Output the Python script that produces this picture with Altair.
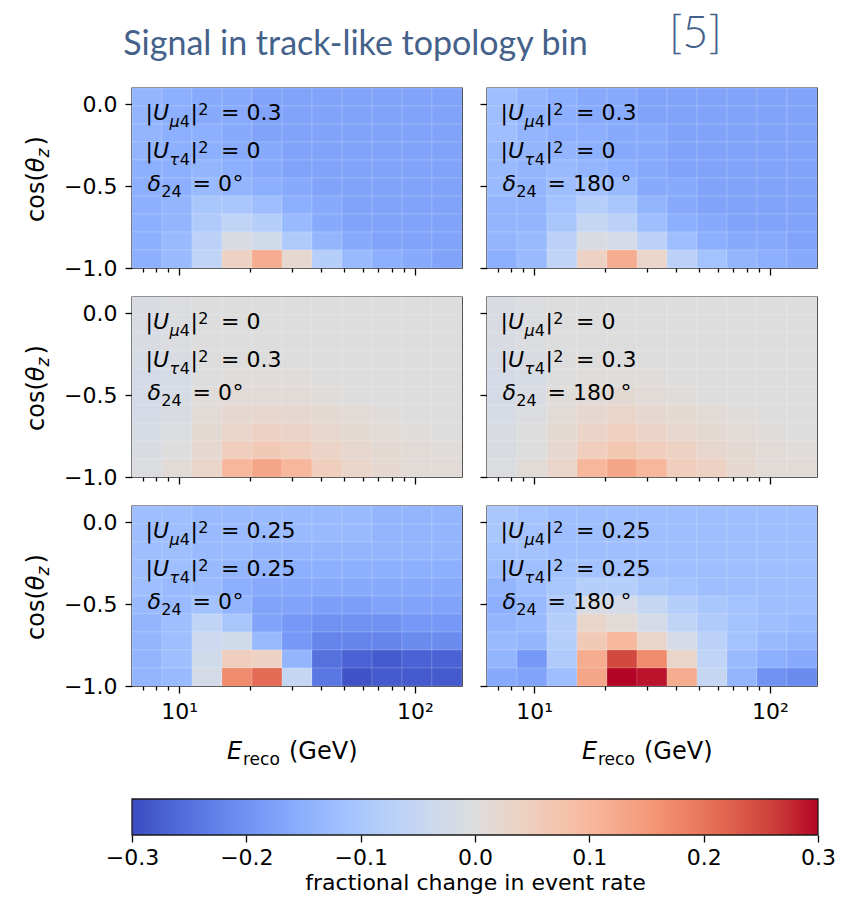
import altair as alt
import pandas as pd

# ---------------- data ----------------
E_EDGES = [6.31, 8.46, 11.34, 15.20, 20.38, 27.32, 36.62, 49.09, 65.79, 88.19, 118.2, 158.5]
COS_EDGES = [-1.0, -0.89, -0.78, -0.67, -0.56, -0.45, -0.34, -0.23, -0.12, -0.01, 0.10]

X_TICKS = [7, 8, 9, 10, 20, 30, 40, 50, 60, 70, 80, 90, 100]
Y_TICKS = [-1.0, -0.5, 0.0]
CB_TICKS = [-0.3, -0.2, -0.1, 0.0, 0.1, 0.2, 0.3]

# matplotlib "coolwarm" stops
CMAP_DOMAIN = [-0.3, -0.2625, -0.225, -0.1875, -0.15, -0.1125, -0.075, -0.0375, 0.0,
               0.0375, 0.075, 0.1125, 0.15, 0.1875, 0.225, 0.2625, 0.3]
CMAP_COLORS = ["#3b4cc0", "#4e68d8", "#6282ea", "#779af7", "#8db0fe", "#a3c2fe", "#b8d0f9",
               "#ccd9ee", "#dddddd", "#ecd3c5", "#f5c4ad", "#f7b194", "#f49a7b", "#ec7f63",
               "#de604d", "#cb3e38", "#b40426"]

# rows listed from top (cos = 0.1) to bottom (cos = -1.0), 11 energy bins each
P1 = [
    [-0.14, -0.15, -0.16, -0.16, -0.17, -0.17, -0.17, -0.17, -0.17, -0.17, -0.17],
    [-0.14, -0.15, -0.16, -0.16, -0.17, -0.17, -0.17, -0.17, -0.17, -0.17, -0.17],
    [-0.14, -0.15, -0.15, -0.16, -0.17, -0.17, -0.17, -0.17, -0.17, -0.17, -0.17],
    [-0.14, -0.15, -0.15, -0.16, -0.16, -0.17, -0.17, -0.17, -0.17, -0.17, -0.17],
    [-0.15, -0.15, -0.14, -0.15, -0.16, -0.17, -0.17, -0.17, -0.17, -0.17, -0.17],
    [-0.15, -0.15, -0.13, -0.14, -0.15, -0.16, -0.17, -0.17, -0.17, -0.17, -0.17],
    [-0.15, -0.14, -0.10, -0.10, -0.12, -0.15, -0.16, -0.17, -0.17, -0.17, -0.17],
    [-0.15, -0.14, -0.09, -0.06, -0.08, -0.13, -0.16, -0.17, -0.17, -0.17, -0.17],
    [-0.15, -0.13, -0.07, -0.01, -0.03, -0.09, -0.14, -0.16, -0.17, -0.17, -0.17],
    [-0.15, -0.13, -0.06, 0.04, 0.12, 0.02, -0.08, -0.13, -0.15, -0.16, -0.17],
]
P2 = [
    [-0.12, -0.14, -0.15, -0.16, -0.16, -0.17, -0.17, -0.17, -0.17, -0.17, -0.17],
    [-0.12, -0.14, -0.15, -0.16, -0.16, -0.17, -0.17, -0.17, -0.17, -0.17, -0.17],
    [-0.12, -0.14, -0.15, -0.15, -0.16, -0.16, -0.17, -0.17, -0.17, -0.17, -0.17],
    [-0.13, -0.14, -0.14, -0.15, -0.16, -0.16, -0.17, -0.17, -0.17, -0.17, -0.17],
    [-0.13, -0.14, -0.13, -0.14, -0.15, -0.16, -0.17, -0.17, -0.17, -0.17, -0.17],
    [-0.13, -0.14, -0.12, -0.11, -0.13, -0.16, -0.16, -0.17, -0.17, -0.17, -0.17],
    [-0.14, -0.14, -0.11, -0.08, -0.10, -0.14, -0.16, -0.17, -0.17, -0.17, -0.17],
    [-0.14, -0.14, -0.10, -0.05, -0.07, -0.12, -0.15, -0.16, -0.17, -0.17, -0.17],
    [-0.14, -0.13, -0.07, -0.01, -0.02, -0.07, -0.12, -0.15, -0.16, -0.16, -0.17],
    [-0.15, -0.13, -0.06, 0.04, 0.12, 0.03, -0.07, -0.11, -0.14, -0.15, -0.16],
]
P3 = [
    [-0.01, -0.005, 0.0, 0.0, 0.0, 0.0, 0.0, 0.0, 0.0, 0.0, 0.0],
    [-0.01, -0.005, 0.0, 0.0, 0.0, 0.0, 0.0, 0.0, 0.0, 0.0, 0.0],
    [-0.01, -0.005, 0.0, 0.0, 0.0, 0.0, 0.0, 0.0, 0.0, 0.0, 0.0],
    [-0.015, -0.01, 0.0, 0.0, 0.0, 0.0, 0.0, 0.0, 0.0, 0.0, 0.0],
    [-0.02, -0.015, 0.0, 0.005, 0.005, 0.005, 0.0, 0.0, 0.0, 0.0, 0.0],
    [-0.02, -0.015, 0.005, 0.01, 0.01, 0.01, 0.005, 0.0, 0.0, 0.0, 0.0],
    [-0.02, -0.01, 0.01, 0.02, 0.025, 0.02, 0.015, 0.01, 0.005, 0.0, 0.0],
    [-0.015, -0.005, 0.015, 0.03, 0.04, 0.035, 0.025, 0.015, 0.01, 0.005, 0.0],
    [-0.01, 0.0, 0.02, 0.05, 0.06, 0.05, 0.035, 0.025, 0.015, 0.01, 0.005],
    [-0.005, 0.01, 0.03, 0.10, 0.13, 0.10, 0.05, 0.03, 0.02, 0.01, 0.01],
]
P4 = [
    [-0.01, -0.005, 0.0, 0.0, 0.0, 0.0, 0.0, 0.0, 0.0, 0.0, 0.0],
    [-0.01, -0.005, 0.0, 0.0, 0.0, 0.0, 0.0, 0.0, 0.0, 0.0, 0.0],
    [-0.01, -0.005, 0.0, 0.0, 0.0, 0.0, 0.0, 0.0, 0.0, 0.0, 0.0],
    [-0.015, -0.01, 0.0, 0.0, 0.0, 0.0, 0.0, 0.0, 0.0, 0.0, 0.0],
    [-0.02, -0.015, 0.0, 0.005, 0.005, 0.005, 0.0, 0.0, 0.0, 0.0, 0.0],
    [-0.02, -0.01, 0.005, 0.01, 0.015, 0.01, 0.005, 0.0, 0.0, 0.0, 0.0],
    [-0.015, -0.005, 0.01, 0.02, 0.03, 0.02, 0.015, 0.01, 0.005, 0.0, 0.0],
    [-0.01, 0.0, 0.015, 0.035, 0.045, 0.035, 0.025, 0.015, 0.01, 0.005, 0.0],
    [-0.01, 0.0, 0.02, 0.05, 0.065, 0.05, 0.04, 0.025, 0.015, 0.01, 0.005],
    [-0.005, 0.01, 0.03, 0.10, 0.13, 0.10, 0.05, 0.04, 0.02, 0.01, 0.01],
]
P5 = [
    [-0.12, -0.12, -0.13, -0.13, -0.13, -0.13, -0.13, -0.13, -0.14, -0.14, -0.14],
    [-0.12, -0.12, -0.13, -0.13, -0.13, -0.13, -0.13, -0.13, -0.14, -0.14, -0.14],
    [-0.12, -0.12, -0.13, -0.13, -0.14, -0.14, -0.14, -0.14, -0.14, -0.14, -0.14],
    [-0.12, -0.12, -0.13, -0.14, -0.14, -0.15, -0.15, -0.15, -0.15, -0.15, -0.15],
    [-0.12, -0.13, -0.13, -0.15, -0.16, -0.16, -0.16, -0.16, -0.16, -0.16, -0.16],
    [-0.13, -0.13, -0.11, -0.14, -0.17, -0.17, -0.18, -0.18, -0.17, -0.17, -0.17],
    [-0.14, -0.12, -0.06, -0.10, -0.17, -0.19, -0.20, -0.20, -0.20, -0.19, -0.19],
    [-0.14, -0.12, -0.04, -0.03, -0.13, -0.19, -0.22, -0.22, -0.22, -0.21, -0.21],
    [-0.14, -0.12, -0.03, 0.05, 0.04, -0.14, -0.25, -0.27, -0.28, -0.27, -0.27],
    [-0.14, -0.13, -0.02, 0.17, 0.21, -0.05, -0.24, -0.29, -0.28, -0.28, -0.28],
]
P6 = [
    [-0.10, -0.11, -0.12, -0.12, -0.12, -0.12, -0.12, -0.12, -0.12, -0.12, -0.12],
    [-0.10, -0.11, -0.12, -0.12, -0.12, -0.12, -0.12, -0.12, -0.12, -0.12, -0.12],
    [-0.11, -0.11, -0.12, -0.12, -0.12, -0.12, -0.12, -0.12, -0.12, -0.12, -0.12],
    [-0.12, -0.12, -0.11, -0.11, -0.11, -0.12, -0.12, -0.12, -0.12, -0.12, -0.12],
    [-0.14, -0.12, -0.10, -0.08, -0.08, -0.10, -0.11, -0.12, -0.12, -0.12, -0.12],
    [-0.15, -0.13, -0.09, -0.01, -0.02, -0.05, -0.08, -0.10, -0.11, -0.12, -0.12],
    [-0.14, -0.13, -0.08, 0.03, 0.01, -0.02, -0.06, -0.09, -0.11, -0.12, -0.13],
    [-0.13, -0.14, -0.08, 0.06, 0.10, 0.03, -0.02, -0.07, -0.11, -0.13, -0.14],
    [-0.14, -0.19, -0.09, 0.12, 0.25, 0.17, 0.03, -0.06, -0.13, -0.15, -0.16],
    [-0.16, -0.17, -0.12, 0.13, 0.30, 0.29, 0.12, -0.05, -0.14, -0.20, -0.21],
]
PANEL_VALUES = [P1, P2, P3, P4, P5, P6]
U_MU = ["0.3", "0.3", "0", "0", "0.25", "0.25"]
U_TAU = ["0", "0", "0.3", "0.3", "0.25", "0.25"]
DELTA = ["0", "180", "0", "180", "0", "180"]

TITLE = "Signal in track-like topology bin"
REF = "[5]"
CB_TITLE = "fractional change in event rate"

# ---------------- style ----------------
W, H = 330, 180
FONT = "DejaVu Sans"
TITLE_COLOR = "#44618a"
FS = 22      # main annotation size
FSS = 16     # sub/superscript size
TS = 24      # axis title size
TSS = 17


def cells(vals):
    recs = []
    n = len(vals)
    for i, row in enumerate(vals):
        r = n - 1 - i
        for j, v in enumerate(row):
            recs.append({"e0": E_EDGES[j], "e1": E_EDGES[j + 1],
                         "c0": COS_EDGES[r], "c1": COS_EDGES[r + 1], "v": v})
    return pd.DataFrame(recs)


def txt(rows, size, style="normal", angle=0, color="black", font=FONT, weight="normal"):
    df = pd.DataFrame(rows, columns=["t", "px", "py"])
    return alt.Chart(df).mark_text(
        align="left", baseline="alphabetic", fontSize=size, fontStyle=style,
        font=font, angle=angle, color=color, fontWeight=weight
    ).encode(
        x=alt.X("px:Q", scale=None, axis=None),
        y=alt.Y("py:Q", scale=None, axis=None),
        text="t:N",
    )


cscale = alt.Scale(domain=CMAP_DOMAIN, range=CMAP_COLORS, clamp=True, interpolate="rgb")
MAJOR_TEST = "datum.value == 10 || datum.value == 100"


def xaxis(show_labels):
    kw = dict(values=X_TICKS, title=None, domain=False, grid=False,
              tickSize={"condition": {"test": MAJOR_TEST, "value": 7}, "value": 4},
              labelFlush=False, labelOverlap=False, labelPadding=8)
    if show_labels:
        kw["labelExpr"] = "datum.value == 10 ? '10\u00b9' : (datum.value == 100 ? '10\u00b2' : '')"
    else:
        kw["labels"] = False
    return alt.Axis(**kw)


def yaxis(show_labels):
    return alt.Axis(values=Y_TICKS, format=".1f", labels=show_labels, title=None, domain=False,
                    grid=False, tickSize=7, labelFlush=False, labelPadding=8)


def panel(k):
    left = (k % 2 == 0)
    bottom = (k >= 4)
    heat = alt.Chart(cells(PANEL_VALUES[k])).mark_rect(
        stroke="white", strokeWidth=0.6, strokeOpacity=0.25
    ).encode(
        x=alt.X("e0:Q", scale=alt.Scale(type="log", domain=[E_EDGES[0], E_EDGES[-1]], nice=False),
                axis=xaxis(bottom)),
        x2="e1:Q",
        y=alt.Y("c0:Q", scale=alt.Scale(domain=[COS_EDGES[0], COS_EDGES[-1]], nice=False, zero=False),
                axis=yaxis(left)),
        y2="c1:Q",
        color=alt.Color("v:Q", scale=cscale, legend=None),
    )
    mu, tau, d = U_MU[k], U_TAU[k], DELTA[k]
    y1, y2, y3 = 32, 70, 103
    layers = [heat]
    # |U_x4|^2 = v  (pieces laid side by side, mathtext style)
    layers.append(txt([("|", 13.5, y1), ("|", 58.5, y1), ("= " + mu, 89, y1),
                       ("|", 13.5, y2), ("|", 58.5, y2), ("= " + tau, 89, y2),
                       ("= " + d, 60.5, y3)], FS))
    layers.append(txt([("U", 21, y1), ("U", 21, y2), ("\u03b4", 15.5, y3)], FS, "italic"))
    layers.append(txt([("\u03bc", 37.4, y1 + 7), ("\u03c4", 37.4, y2 + 7)], FSS, "italic"))
    layers.append(txt([("4", 47.8, y1 + 7), ("4", 47.8, y2 + 7), ("24", 29.2, y3 + 6),
                       ("2", 66.2, y1 - 5), ("2", 66.2, y2 - 5)], FSS))
    layers.append(txt([("\u00b0", 100.5 if d == "0" else 133.5, y3)], FS))
    if left:
        layers.append(txt([("cos(", -88, 134), (")", -88, 57.6)], TS, angle=270))
        layers.append(txt([("\u03b8", -88, 84.3)], TS, "italic", angle=270))
        layers.append(txt([("z", -83, 69.6)], TSS, "italic", angle=270))
    if bottom:
        layers.append(txt([("E", 95, H + 73)], TS, "italic"))
        layers.append(txt([("reco", 111, H + 79)], TSS))
        layers.append(txt([("(GeV)", 157, H + 73)], TS))
    if k == 0:
        layers.append(txt([(TITLE, -8.7, -33)], 34, color=TITLE_COLOR, font="Lato"))
        layers.append(txt([(REF, 537, -40)], 45, color=TITLE_COLOR, font="Lato", weight=300))
    if k == 4:
        grad = alt.LinearGradient(
            gradient="linear", x1=0, x2=1, y1=0, y2=0,
            stops=[alt.GradientStop(color=c, offset=(v - CMAP_DOMAIN[0]) / (CMAP_DOMAIN[-1] - CMAP_DOMAIN[0]))
                   for v, c in zip(CMAP_DOMAIN, CMAP_COLORS)])
        cb = alt.Chart(pd.DataFrame({"lo": [CB_TICKS[0]], "hi": [CB_TICKS[-1]]})).mark_rect(
            fill=grad, stroke="#1a1a1a", strokeWidth=1.3
        ).encode(
            x=alt.X("lo:Q", scale=alt.Scale(domain=[CB_TICKS[0], CB_TICKS[-1]], range=[0, 686],
                                            nice=False, zero=False),
                    axis=alt.Axis(orient="bottom", offset=149, values=CB_TICKS, format=".1f",
                                  title=CB_TITLE, domain=False, grid=False, tickSize=7,
                                  labelFlush=False, labelPadding=5, titlePadding=4,
                                  titleFontSize=22, titleFontWeight="normal")),
            x2="hi:Q",
            y=alt.value(293),
            y2=alt.value(329),
        )
        layers.append(cb)
    return alt.layer(*layers).resolve_scale(x="independent", y="independent").properties(width=W, height=H)


panels = [panel(k) for k in range(6)]

chart = alt.concat(
    *panels, columns=2, spacing={"row": 29, "column": 25}, bounds="flush"
).resolve_scale(
    x="independent", y="independent"
).properties(
    padding={"left": 24, "top": 11, "right": 5, "bottom": 4},
    background="white",
).configure_view(
    stroke="#1a1a1a", strokeWidth=1.4
).configure_axis(
    labelFont=FONT, labelFontSize=22, labelColor="black", tickColor="black", tickWidth=1.3,
    titleFont=FONT, titleColor="black",
)

chart.save("out.html", embed_options={"renderer": "svg", "actions": False})
